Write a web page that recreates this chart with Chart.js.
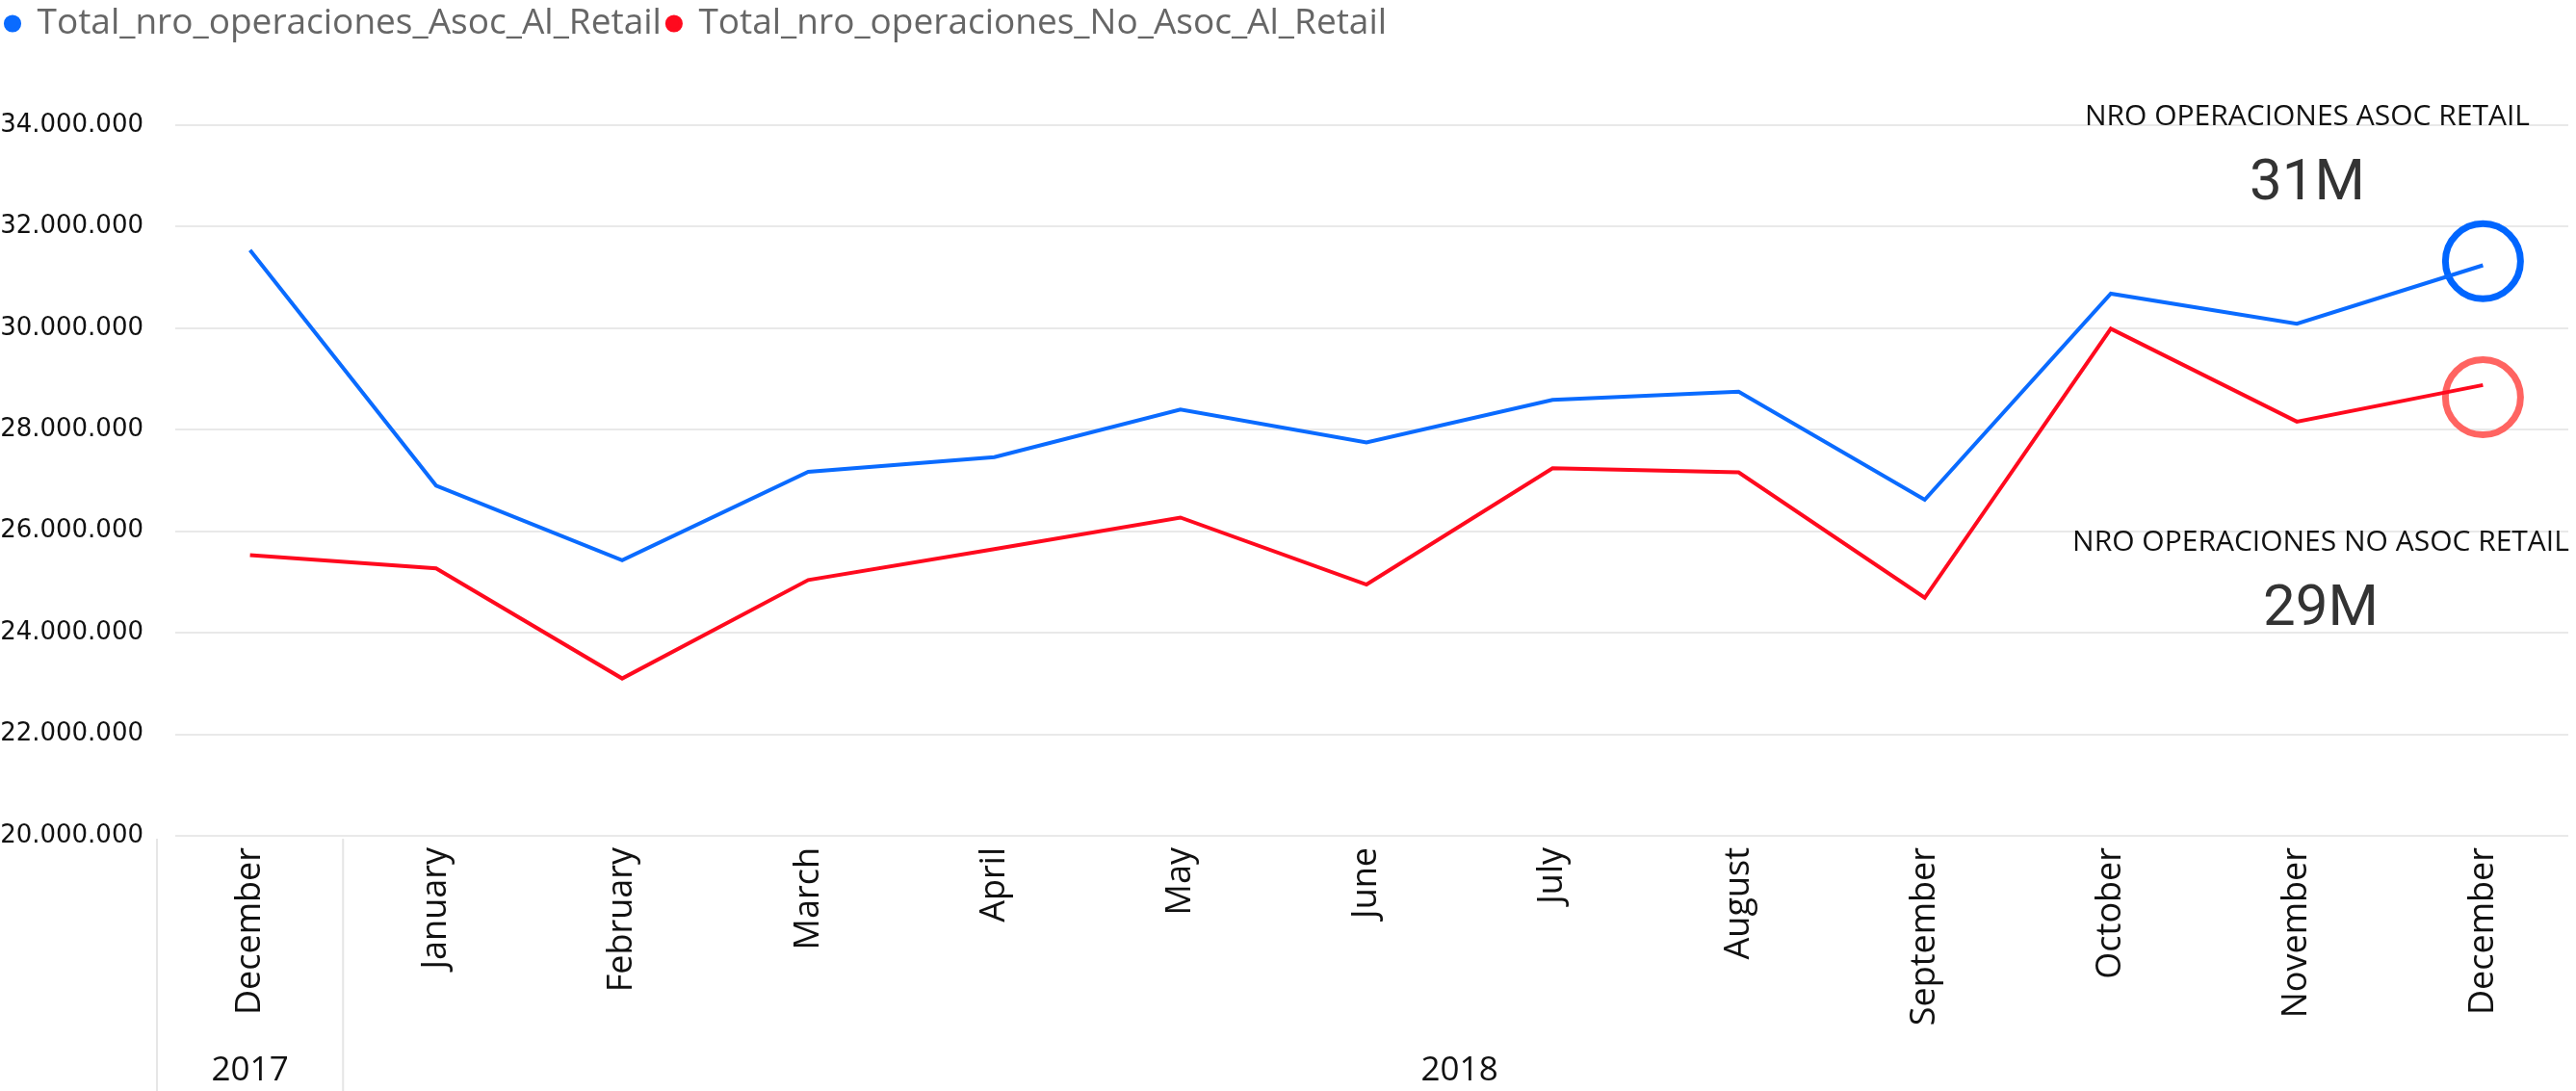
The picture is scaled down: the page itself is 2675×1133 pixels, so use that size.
<!DOCTYPE html>
<html lang="es">
<head>
  <meta charset="UTF-8">
  <title>Nro operaciones Retail</title>
  <script src="https://cdn.jsdelivr.net/npm/chart.js"></script>
  <style>
    html, body { margin: 0; padding: 0; background: #fff; }
    #wrap { width: 2675px; height: 1133px; position: relative; }
  </style>
</head>
<body>
  <div id="wrap"><canvas id="opsChart"></canvas></div>

  <script>
    // Months on the axis and the year each one belongs to
    const months = ['December', 'January', 'February', 'March', 'April', 'May', 'June',
                    'July', 'August', 'September', 'October', 'November', 'December'];
    const monthYears = ['2017', '2018', '2018', '2018', '2018', '2018', '2018',
                        '2018', '2018', '2018', '2018', '2018', '2018'];

    // Series values
    const asocRetail = [31540000, 26900000, 25430000, 27170000, 27460000, 28400000, 27750000,
                        28590000, 28750000, 26620000, 30680000, 30090000, 31240000];
    const noAsocRetail = [25530000, 25270000, 23100000, 25040000, 25650000, 26270000, 24950000,
                          27240000, 27160000, 24690000, 29990000, 28160000, 28880000];

    // Marker rings around the last month
    const asocRing = [31320000];
    const noAsocRing = [28640000];

    const yTicks = [20000000, 22000000, 24000000, 26000000, 28000000, 30000000, 32000000, 34000000];

    const seriesNames = ['Total_nro_operaciones_Asoc_Al_Retail', 'Total_nro_operaciones_No_Asoc_Al_Retail'];
    const cardTitles = ['NRO OPERACIONES ASOC RETAIL', 'NRO OPERACIONES NO ASOC RETAIL'];

    const BLUE = '#0a6bff';
    const RED = '#ff0a1e';

    function dotted(n) {
      return String(n).replace(/\B(?=(\d{3})+(?!\d))/g, '.');
    }

    // ring data only on the last category
    function lastOnly(v) {
      return months.map((m, i) => i === months.length - 1 ? v[0] : null);
    }

    // Horizontal gridlines, inset a little from the left like the original
    const hGrid = {
      id: 'hGrid',
      beforeDatasetsDraw(chart) {
        const y = chart.scales.y;
        const area = chart.chartArea;
        const ctx = chart.ctx;
        ctx.save();
        ctx.strokeStyle = '#e9e9e9';
        ctx.lineWidth = 2;
        y.ticks.forEach(t => {
          const py = Math.round(y.getPixelForValue(t.value));
          ctx.beginPath();
          ctx.moveTo(area.left + 19, py);
          ctx.lineTo(area.right - 8, py);
          ctx.stroke();
        });
        ctx.restore();
      }
    };

    // Year row under the month labels, with separators
    const yearRow = {
      id: 'yearRow',
      afterDraw(chart) {
        const x = chart.scales.x;
        const ctx = chart.ctx;
        const band = x.getPixelForValue(1) - x.getPixelForValue(0);
        const groups = [];
        monthYears.forEach((y, i) => {
          const g = groups[groups.length - 1];
          if (g && g.year === y) g.end = i; else groups.push({ year: y, start: i, end: i });
        });
        ctx.save();
        ctx.strokeStyle = '#e6e6e6';
        ctx.lineWidth = 2;
        groups.forEach(g => {
          const left = x.getPixelForValue(g.start) - band / 2;
          ctx.beginPath();
          ctx.moveTo(left, chart.chartArea.bottom + 3);
          ctx.lineTo(left, chart.height);
          ctx.stroke();
          const mid = (x.getPixelForValue(g.start) + x.getPixelForValue(g.end)) / 2;
          ctx.fillStyle = '#111';
          ctx.font = '35px "Open Sans"';
          ctx.textAlign = 'center';
          ctx.textBaseline = 'alphabetic';
          ctx.fillText(g.year, mid, 1122);
        });
        ctx.restore();
      }
    };

    // Card-style labels at the top right
    const cards = {
      id: 'cards',
      afterDraw(chart) {
        const ctx = chart.ctx;
        const last = months.length - 1;
        const vals = [asocRetail[last], noAsocRetail[last]];
        const spots = [{ x: 2396, t: 121, v: 192 }, { x: 2410, t: 563, v: 634 }];
        ctx.save();
        ctx.textAlign = 'center';
        spots.forEach((s, i) => {
          ctx.fillStyle = '#111';
          ctx.font = '30px "Open Sans"';
          ctx.fillText(cardTitles[i], s.x, s.t);
          ctx.fillStyle = '#333';
          ctx.font = '400 60px Roboto';
          ctx.fillText(Math.round(vals[i] / 1e6) + 'M', s.x, s.v);
        });
        ctx.restore();
      }
    };

    // Pin the legend band height so the plot starts where the original does
    const legendHeight = {
      id: 'legendHeight',
      beforeInit(chart) {
        const lg = chart.legend;
        if (!lg) return;
        const fit = lg.fit;
        lg.fit = function () { fit.call(this); this.height = 130; };
      }
    };

    const ctx = document.getElementById('opsChart').getContext('2d');
    const opsChart = new Chart(ctx, {
      type: 'line',
      data: {
        labels: months,
        datasets: [
          {
            label: seriesNames[0],
            data: asocRetail,
            borderColor: BLUE,
            backgroundColor: BLUE,
            borderWidth: 4,
            pointRadius: 0,
            tension: 0,
            fill: false
          },
          {
            label: seriesNames[1],
            data: noAsocRetail,
            borderColor: RED,
            backgroundColor: RED,
            borderWidth: 4,
            pointRadius: 0,
            tension: 0,
            fill: false
          },
          {
            label: 'ring1',
            data: lastOnly(asocRing),
            showLine: false,
            pointRadius: 39,
            pointBorderWidth: 7,
            pointBorderColor: '#0066ff',
            pointBackgroundColor: 'rgba(0,0,0,0)'
          },
          {
            label: 'ring2',
            data: lastOnly(noAsocRing),
            showLine: false,
            pointRadius: 39,
            pointBorderWidth: 7,
            pointBorderColor: '#ff6461',
            pointBackgroundColor: 'rgba(0,0,0,0)'
          }
        ]
      },
      options: {
        responsive: true,
        maintainAspectRatio: false,
        animation: false,
        layout: { padding: 0, autoPadding: false },
        plugins: {
          tooltip: { enabled: false },
          legend: {
            position: 'top',
            align: 'start',
            labels: {
              filter: item => item.datasetIndex < 2,
              usePointStyle: true,
              pointStyle: 'circle',
              boxWidth: 14,
              boxHeight: 10,
              padding: 6,
              color: '#666',
              font: { family: 'Open Sans', size: 37 }
            }
          }
        },
        scales: {
          x: {
            type: 'category',
            offset: true,
            grid: { display: false },
            border: { display: false },
            ticks: {
              minRotation: 90,
              maxRotation: 90,
              autoSkip: false,
              padding: 4,
              color: '#111',
              font: { family: 'Open Sans', size: 36 }
            },
            afterFit(scale) {
              scale.height = 265;
              scale.paddingLeft = 0;
              scale.paddingRight = 0;
            }
          },
          y: {
            min: 20000000,
            max: 34000000,
            afterBuildTicks(scale) { scale.ticks = yTicks.map(v => ({ value: v })); },
            grid: { display: false },
            border: { display: false },
            ticks: {
              padding: 6,
              color: '#111',
              font: { family: 'DejaVu Sans', size: 26 },
              callback: v => dotted(v)
            },
            afterFit(scale) { scale.width = 163; }
          }
        }
      },
      plugins: [legendHeight, hGrid, yearRow, cards]
    });
  </script>
</body>
</html>
